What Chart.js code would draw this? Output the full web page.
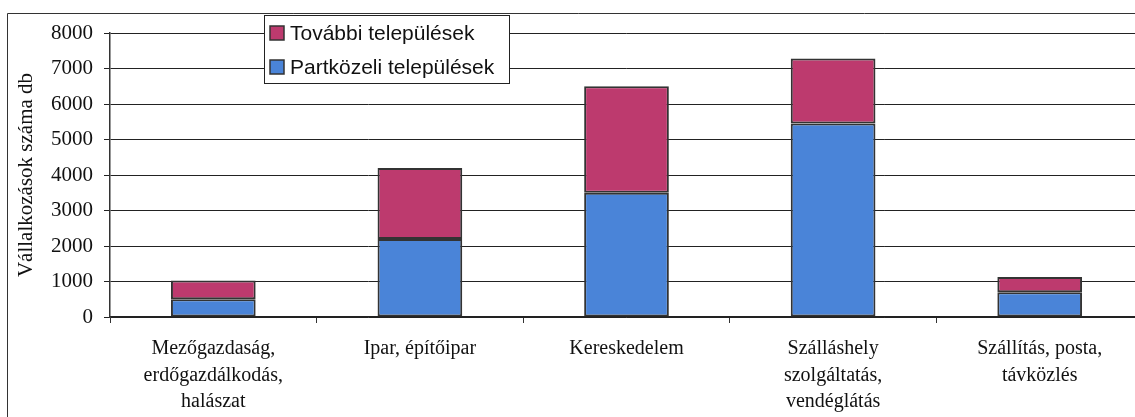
<!DOCTYPE html>
<html>
<head>
<meta charset="utf-8">
<script src="https://cdn.jsdelivr.net/npm/chart.js@4/dist/chart.umd.min.js"></script>
<style>
html,body{margin:0;padding:0;background:#fff;overflow:hidden;width:1135px;height:417px;}
#c{display:block;}
</style>
</head>
<body>
<canvas id="c" width="1150" height="417"></canvas>
<script>
const categories = [
  ["Mezőgazdaság,", "erdőgazdálkodás,", "halászat"],
  ["Ipar, építőipar"],
  ["Kereskedelem"],
  ["Szálláshely", "szolgáltatás,", "vendéglátás"],
  ["Szállítás, posta,", "távközlés"]
];
const partkozeli = [500, 2200, 3500, 5450, 700];
const tovabbi = [530, 2000, 3000, 1830, 430];
const seriesNames = ["Partközeli települések", "További települések"];
const yTitle = "Vállalkozások száma db";
const yMax = 8000, yStep = 1000;

const BLUE = '#4A84D8', PURPLE = '#BD3A6E', EDGE = '#333333';

const framePlugin = {
  id: 'frame',
  beforeDraw(chart) {
    const ctx = chart.ctx;
    ctx.save();
    ctx.fillStyle = '#fff';
    ctx.fillRect(0, 0, chart.width, chart.height);
    ctx.strokeStyle = '#333';
    ctx.lineWidth = 1;
    ctx.beginPath();
    ctx.moveTo(7.5, 417);
    ctx.lineTo(7.5, 13.5);
    ctx.lineTo(chart.width, 13.5);
    ctx.stroke();
    ctx.restore();
  }
};

const legendPlugin = {
  id: 'boxLegend',
  afterDraw(chart) {
    const ctx = chart.ctx;
    const x0 = 264, y0 = 15, w = 245, h = 68;
    ctx.save();
    ctx.fillStyle = '#fff';
    ctx.fillRect(x0, y0, w, h);
    ctx.strokeStyle = '#222';
    ctx.lineWidth = 1;
    ctx.strokeRect(x0 + 0.5, y0 + 0.5, w, h);
    const ds = chart.data.datasets.slice().reverse();
    ds.forEach((d, i) => {
      const cy = 33 + i * 34;
      ctx.fillStyle = d.backgroundColor;
      ctx.fillRect(270, cy - 7, 14, 14);
      ctx.strokeStyle = '#333';
      ctx.lineWidth = 1.5;
      ctx.strokeRect(270, cy - 7, 14, 14);
      ctx.fillStyle = '#111';
      ctx.font = '21px "Liberation Sans", Arial, sans-serif';
      ctx.textBaseline = 'middle';
      ctx.textAlign = 'left';
      ctx.fillText(d.label, 290, cy + 1);
    });
    ctx.restore();
  }
};

new Chart(document.getElementById('c'), {
  type: 'bar',
  data: {
    labels: categories,
    datasets: [
      { label: seriesNames[0], data: partkozeli, backgroundColor: BLUE, borderColor: EDGE, borderWidth: 2, borderSkipped: false },
      { label: seriesNames[1], data: tovabbi, backgroundColor: PURPLE, borderColor: EDGE, borderWidth: 2, borderSkipped: false }
    ]
  },
  options: {
    responsive: false,
    animation: false,
    events: [],
    datasets: { bar: { barPercentage: 0.41, categoryPercentage: 1.0 } },
    layout: { padding: { top: 33, right: 7, left: 0, bottom: 0 } },
    plugins: { legend: { display: false }, tooltip: { enabled: false } },
    scales: {
      x: {
        stacked: true,
        offset: true,
        afterFit(s) { s.height = 100; },
        grid: { offset: true, drawOnChartArea: false, drawTicks: true, tickLength: 6, color: '#333', lineWidth: 1 },
        border: { display: true, color: '#222', width: 1.5 },
        ticks: {
          color: '#111',
          padding: 13,
          maxRotation: 0,
          autoSkip: false,
          font: { family: '"Liberation Serif", "Times New Roman", serif', size: 20, lineHeight: 1.32 }
        }
      },
      y: {
        stacked: true,
        min: 0,
        max: yMax,
        afterFit(s) { s.width = 110; },
        grid: { color: '#222', lineWidth: 1, tickLength: 6, drawTicks: true },
        border: { display: true, color: '#333', width: 1.5 },
        ticks: {
          stepSize: yStep,
          color: '#111',
          padding: 11,
          callback: (v) => String(v),
          font: { family: '"Liberation Serif", "Times New Roman", serif', size: 21 }
        },
        title: {
          display: true,
          text: yTitle,
          color: '#111',
          padding: { top: 14, bottom: 0 },
          font: { family: '"Liberation Serif", "Times New Roman", serif', size: 21 }
        }
      }
    }
  },
  plugins: [framePlugin, legendPlugin]
});
</script>
</body>
</html>
